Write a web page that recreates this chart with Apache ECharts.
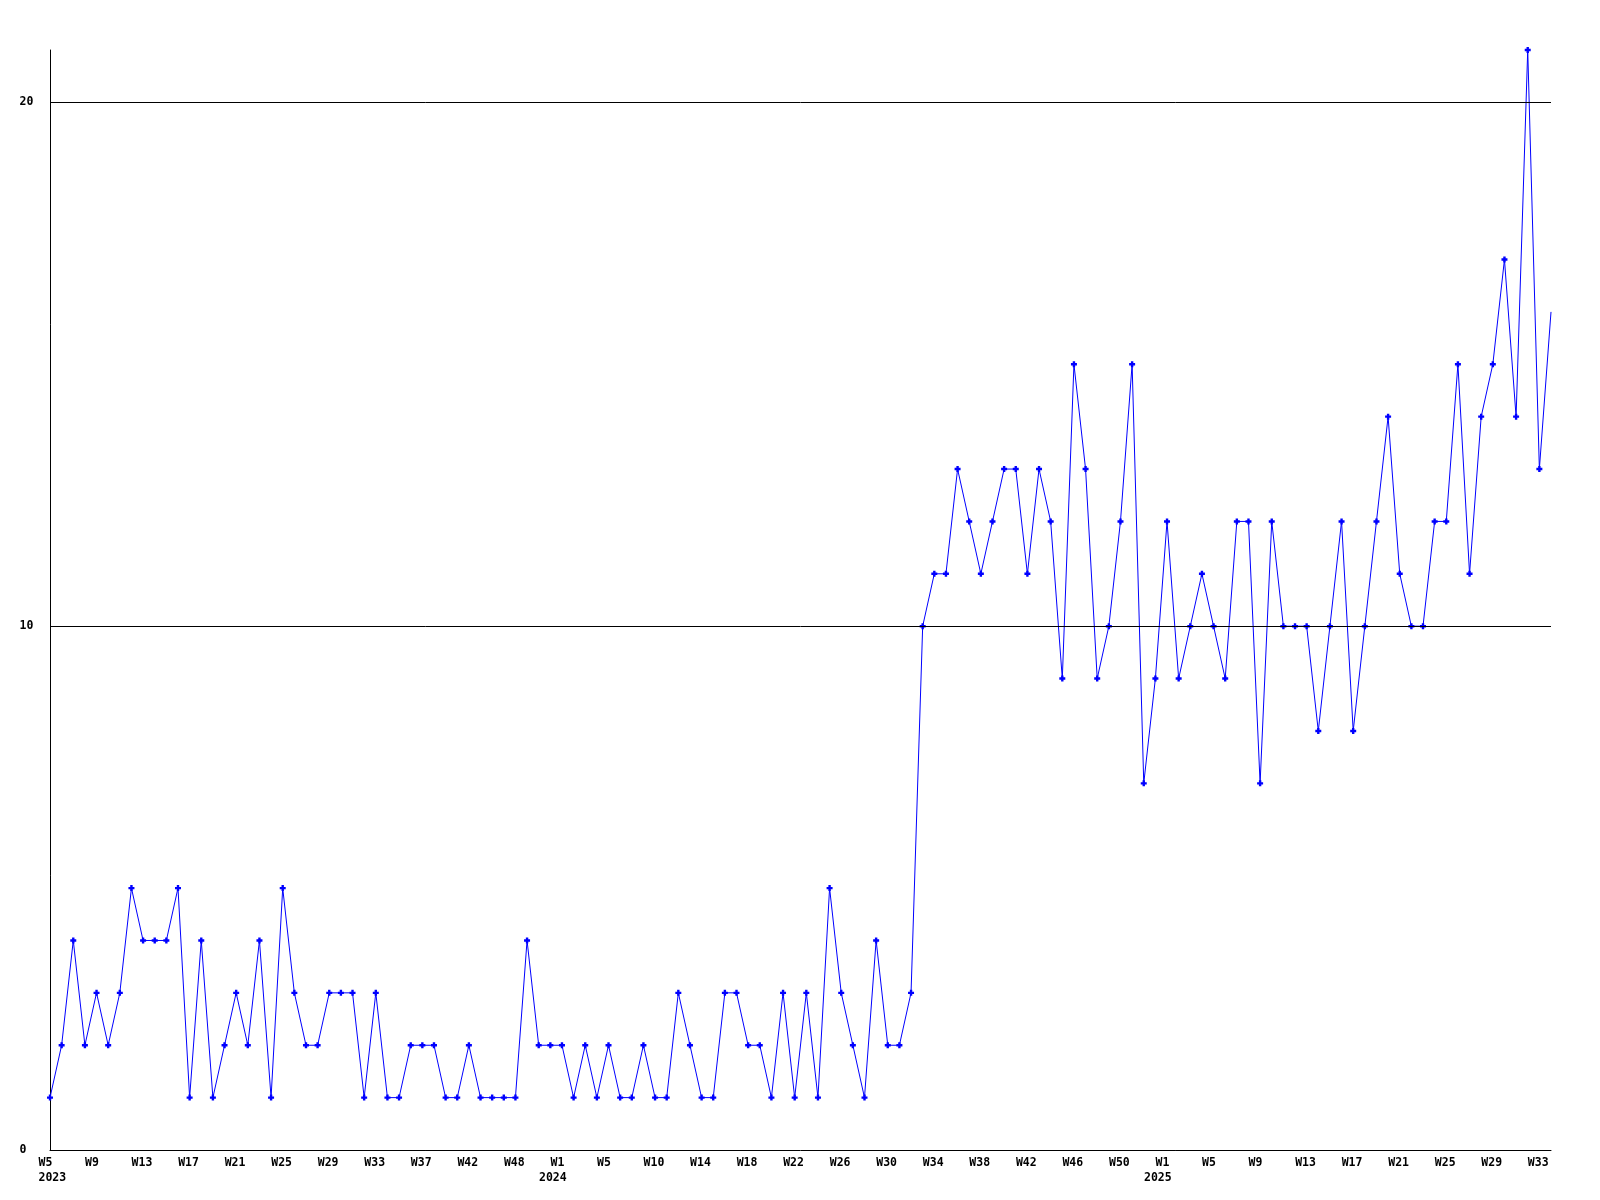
<!DOCTYPE html>
<html><head><meta charset="utf-8">
<script src="https://cdn.jsdelivr.net/npm/echarts@6/dist/echarts.min.js"></script>
<style>html,body{margin:0;padding:0;background:#fff}#c{width:1600px;height:1200px}</style>
</head><body><div id="c"></div>
<script>
// Week numbers present in the data (categories), per year
const weeks2023 = [5,6,7,8,9,10,11,12,13,14,15,16,17,18,19,20,21,22,23,24,25,26,27,28,29,30,31,32,33,34,35,36,37,38,39,40,42,43,44,46,48,49,50,51];
const weeks2024 = [1,2,3,4,5,6,7,8,10,11,12,13,14,15,16,17,18,19,20,21,22,23,24,25,26,27,28,29,30,31,32,33,34,35,36,37,38,39,40,41,42,43,44,45,46,47,48,49,50,51,52,53];
const weeks2025 = [1,2,3,4,5,6,7,8,9,10,11,12,13,14,15,16,17,18,19,20,21,22,23,24,25,26,27,28,29,30,31,32,33,34];

// Weekly values
const values = [
  1,2,4,2,3,2,3,5,4,4, 4,5,1,4,1,2,3,2,4,1, 5,3,2,2,3,3,3,1,3,1, 1,2,2,2,1,1,2,1,1,1, 1,4,2,2,
  2,1,2,1,2,1,1,2,1,1, 3,2,1,1,3,3,2,2,1,3, 1,3,1,5,3,2,1,4,2,2, 3,
  10,11,11,13,12,11,12,13,13,11, 13,12,9,15,13,9,10,12,15,7, 9,12,9,10,11,10,9,
  12,12,7,12,10,10,10,8,10,12, 8,10,12,14,11,10,10,12,12,15, 11,14,15,17,14,21,13,16
];

const yTickLabels = [0, 10, 20];
const gridLineValues = [10, 20];

const categories = [];
weeks2023.forEach(w => categories.push('2023 W' + w));
weeks2024.forEach(w => categories.push('2024 W' + w));
weeks2025.forEach(w => categories.push('2025 W' + w));

const FONT = '"DejaVu Sans Mono", "Liberation Mono", monospace';
const baseText = { fontFamily: FONT, fontWeight: 'bold', fontSize: 11.5, color: '#000', lineHeight: 14.5 };

const chart = echarts.init(document.getElementById('c'), null, { renderer: 'canvas', width: 1600, height: 1200 });

const L = 50, R = 49, T = 50, B = 50, SHIFT = 23;

const option = {
  animation: false,
  backgroundColor: '#ffffff',
  grid: [
    { left: L, right: R, top: T, bottom: B },
    { left: L - SHIFT, right: R + SHIFT, top: T, bottom: B }
  ],
  xAxis: [
    {
      type: 'category', gridIndex: 0, data: categories, boundaryGap: false,
      axisLine: { show: true, lineStyle: { color: '#000', width: 1 } },
      axisTick: { show: false }, axisLabel: { show: false }, splitLine: { show: false }
    },
    {
      type: 'category', gridIndex: 1, data: categories, boundaryGap: false,
      axisLine: { show: false }, axisTick: { show: false }, splitLine: { show: false },
      axisLabel: Object.assign({}, baseText, {
        interval: 3, align: 'left', margin: 6,
        formatter: function (v, i) {
          const parts = v.split(' ');
          const yr = parts[0], wk = parts[1];
          const prev = i > 0 ? categories[i - 1].split(' ')[0] : null;
          if (i === 0) return '{w|' + wk + '}\n{w|' + yr + '}';
          if (prev !== yr) return '{w|' + wk + '}\n{y|' + yr + '}';
          return '{w|' + wk + '}';
        },
        rich: {
          w: Object.assign({}, baseText, { padding: [0, 0, 0, 11.5] }),
          y: Object.assign({}, baseText)
        }
      })
    }
  ],
  yAxis: [
    {
      type: 'value', gridIndex: 0, min: 0, max: 21, interval: 10,
      axisLine: { show: true, lineStyle: { color: '#000', width: 1 } },
      axisTick: { show: false }, splitLine: { show: false },
      axisLabel: Object.assign({}, baseText, {
        margin: 30.5, align: 'left',
        formatter: v => (yTickLabels.indexOf(v) >= 0 ? String(v) : '')
      })
    },
    { type: 'value', gridIndex: 1, show: false, min: 0, max: 21 }
  ],
  series: [{
    type: 'line', xAxisIndex: 0, yAxisIndex: 0,
    data: values.map((v, i) => (i === values.length - 1 ? { value: v, symbolSize: 0 } : v)),
    symbol: 'path://M1.5,0H3.5V1.5H5V3.5H3.5V5H1.5V3.5H0V1.5H1.5Z',
    symbolSize: 6, showAllSymbol: true, showSymbol: true,
    lineStyle: { color: '#0000ff', width: 1 },
    itemStyle: { color: '#0000ff' },
    emphasis: { disabled: true },
    markLine: {
      silent: true, symbol: 'none', animation: false,
      label: { show: false },
      lineStyle: { color: '#000', width: 1, type: 'solid' },
      emphasis: { disabled: true },
      data: gridLineValues.map(g => ({ yAxis: g }))
    }
  }]
};
chart.setOption(option);
</script>
</body></html>
